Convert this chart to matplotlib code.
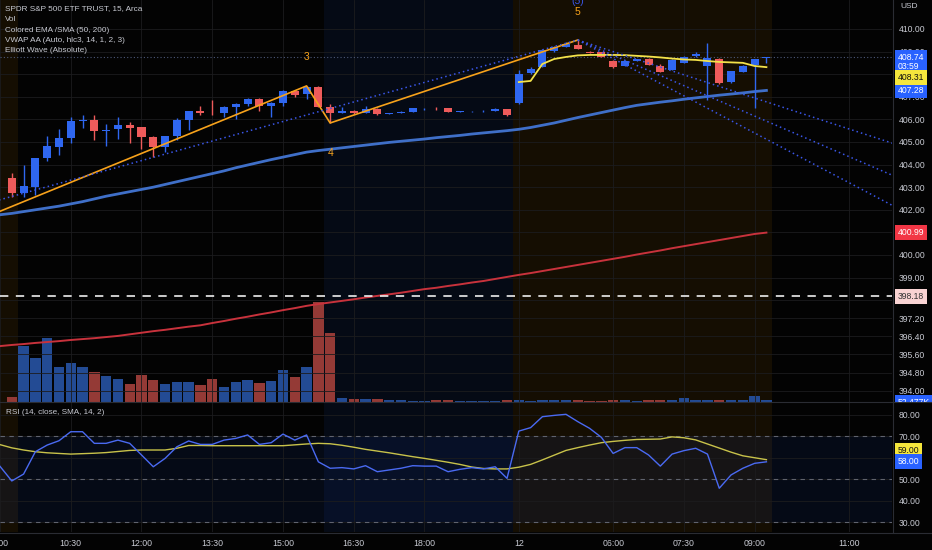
import numpy as np
import matplotlib
matplotlib.use("Agg")
import matplotlib.pyplot as plt
from matplotlib.transforms import Bbox, TransformedBbox
from matplotlib.lines import Line2D

plt.rcParams['font.family'] = ['Liberation Sans', 'DejaVu Sans']

# ---- data (15 min bars, 9:15 day 1 ... 9:15 day 2) ----
opens = [403.41, 402.74, 402.99, 404.29, 404.78, 405.18, 405.93, 405.97, 405.49, 405.58,
         405.75, 405.66, 405.22, 404.78, 405.27, 405.97, 406.37, 406.30, 406.28, 406.55,
         406.68, 406.90, 406.60, 406.73, 407.26, 407.12, 407.43, 406.55, 406.28, 406.37,
         406.28, 406.46, 406.24, 406.28, 406.33, 406.45, 406.48, 406.50, 406.33, 406.35,
         406.35, 406.37, 406.46, 406.73, 408.05, 408.32, 409.03, 409.20, 409.30, 409.00,
         408.98, 408.60, 408.36, 408.60, 408.67, 408.36, 408.19, 408.51, 408.80, 408.38,
         408.66, 407.64, 408.11, 408.41, 408.70]
highs = [403.63, 403.98, 404.29, 405.27, 405.58, 406.11, 406.19, 406.19, 405.80, 406.11,
         405.88, 405.66, 405.27, 405.27, 406.06, 406.37, 406.60, 406.86, 406.60, 406.72,
         406.95, 406.95, 406.77, 407.30, 407.30, 407.48, 407.48, 406.68, 406.55, 406.40,
         406.60, 406.50, 406.30, 406.35, 406.52, 406.50, 406.56, 406.52, 406.39, 406.39,
         406.40, 406.50, 406.48, 408.19, 408.32, 409.12, 409.25, 409.40, 409.51, 409.03,
         409.00, 408.62, 408.62, 408.68, 408.70, 408.45, 408.65, 408.80, 409.00, 409.36,
         408.70, 408.16, 408.40, 408.69, 408.76]
lows = [402.57, 402.57, 402.66, 404.16, 404.42, 404.96, 405.62, 405.09, 404.82, 405.13,
        404.96, 404.69, 404.34, 404.56, 405.09, 405.53, 406.20, 406.20, 406.11, 406.00,
        406.60, 406.37, 406.11, 406.60, 407.00, 406.90, 406.55, 405.84, 406.26, 406.24,
        406.26, 406.20, 406.22, 406.26, 406.31, 406.43, 406.40, 406.31, 406.31, 406.33,
        406.33, 406.35, 406.17, 406.70, 408.00, 408.30, 409.00, 409.18, 409.10, 408.93,
        408.74, 408.28, 408.34, 408.58, 408.40, 408.09, 408.17, 408.49, 408.78, 406.85,
        407.58, 407.62, 408.09, 406.50, 408.50]
closes = [402.74, 403.05, 404.29, 404.82, 405.18, 405.93, 405.97, 405.49, 405.53, 405.75,
          405.62, 405.22, 404.78, 405.27, 405.97, 406.37, 406.28, 406.26, 406.55, 406.68,
          406.90, 406.60, 406.73, 407.26, 407.08, 407.43, 406.55, 406.28, 406.37, 406.28,
          406.46, 406.24, 406.28, 406.33, 406.50, 406.48, 406.44, 406.33, 406.37, 406.37,
          406.38, 406.46, 406.19, 408.01, 408.23, 409.07, 409.20, 409.34, 409.12, 408.95,
          408.76, 408.30, 408.58, 408.66, 408.42, 408.11, 408.63, 408.78, 408.90, 408.72,
          407.60, 408.14, 408.38, 408.67, 408.74]
volume_k = [176, 2228, 1760, 2536, 1376, 1536, 1400, 1200, 1028, 908,
            696, 1068, 868, 696, 800, 800, 668, 896, 600, 800,
            868, 736, 828, 1268, 1000, 1376, 4000, 2760, 160, 120,
            108, 92, 68, 52, 48, 44, 60, 60, 40, 44,
            40, 48, 52, 56, 48, 52, 60, 52, 56, 48,
            44, 60, 56, 48, 60, 80, 68, 132, 72, 88,
            80, 72, 76, 240, 52.477]

# line series start one bar earlier (9:00 day 1)
ema50 = [401.78, 401.84, 401.92, 402.00, 402.08, 402.16, 402.26, 402.36, 402.48, 402.60,
         402.70, 402.80, 402.90, 403.00, 403.12, 403.24, 403.36, 403.48, 403.60, 403.72,
         403.86, 403.98, 404.10, 404.22, 404.33, 404.44, 404.55, 404.62, 404.68, 404.74,
         404.80, 404.86, 404.92, 404.98, 405.03, 405.08, 405.13, 405.19, 405.24, 405.29,
         405.35, 405.40, 405.45, 405.50, 405.56, 405.64, 405.74, 405.84, 405.96, 406.08,
         406.19, 406.30, 406.41, 406.52, 406.62, 406.69, 406.76, 406.82, 406.89, 406.95,
         407.01, 407.07, 407.12, 407.17, 407.23, 407.28]
sma200 = [395.97, 396.02, 396.06, 396.11, 396.15, 396.19, 396.24, 396.28, 396.32, 396.37,
          396.42, 396.49, 396.56, 396.63, 396.69, 396.76, 396.83, 396.89, 396.99, 397.08,
          397.18, 397.27, 397.37, 397.46, 397.56, 397.65, 397.75, 397.83, 397.90, 397.97,
          398.04, 398.12, 398.19, 398.26, 398.33, 398.41, 398.49, 398.55, 398.63, 398.70,
          398.78, 398.85, 398.94, 399.03, 399.12, 399.20, 399.29, 399.38, 399.47, 399.56,
          399.65, 399.74, 399.83, 399.92, 400.02, 400.11, 400.20, 400.30, 400.39, 400.48,
          400.57, 400.66, 400.75, 400.84, 400.93, 400.99]
rsi = [55.9, 49.1, 52.3, 62.7, 65.8, 67.8, 72.0, 72.0, 66.6, 66.6,
       68.1, 66.6, 61.2, 55.7, 59.6, 65.0, 67.7, 66.1, 66.1, 68.1,
       68.9, 70.5, 66.1, 66.9, 70.9, 68.1, 70.5, 58.0, 55.0, 55.3,
       54.7, 56.2, 53.4, 54.2, 55.0, 56.2, 56.0, 56.0, 53.4, 54.5,
       55.3, 54.7, 55.7, 50.3, 72.3, 73.9, 79.0, 79.6, 80.1, 76.7,
       73.6, 69.4, 61.9, 64.6, 64.6, 61.2, 56.0, 61.6, 63.2, 64.3,
       61.6, 45.7, 51.9, 55.0, 57.3, 58.0]
rsi_ma = [66.0, 64.5, 63.5, 62.7, 62.2, 61.9, 61.6, 61.8, 62.0, 62.3,
          62.8, 63.3, 63.5, 63.5, 63.5, 64.3, 65.6, 65.6, 65.5, 65.5,
          65.5, 65.5, 65.5, 65.5, 65.5, 65.9, 66.3, 66.6, 66.4, 65.7,
          64.8, 63.8, 63.0, 62.2, 61.3, 60.4, 59.6, 58.7, 57.8, 56.8,
          55.6, 54.9, 54.7, 54.7, 55.5, 56.8, 58.9, 61.1, 63.3, 64.6,
          65.8, 66.9, 67.5, 68.0, 68.4, 68.5, 68.6, 69.6, 69.2, 68.2,
          66.3, 64.4, 62.5, 60.8, 59.9, 59.0]
# VWAP anchored at day-2 session start (bar 43)
vwap_start = 43
vwap = [407.65, 407.70, 408.45, 408.67, 408.76, 408.83, 408.85, 408.85, 408.85, 408.84,
        408.81, 408.78, 408.74, 408.69, 408.65, 408.63, 408.58, 408.54, 408.52, 408.50,
        408.36, 408.31]

# Elliott wave pivots (bar index, price) and channel lines
wave_x = [-2, 25, 27, 48]
wave_y = [401.72, 407.48, 405.84, 409.51]
wave_labels = ['3', '4', '5']
wave_label_y = [408.76, 404.51, 410.75]
chan_x = [-2, 48]
chan_y = [402.30, 409.51]
fan_x = [48, 76]
fan_ends = [404.72, 403.23, 401.83]

last_price = 408.74
ref_level = 398.18

# sessions: pre-market / post-market shading (bar index ranges)
sess_start = [-1.5, 26.5, 42.5]
sess_end = [0.5, 42.5, 64.5]
sess_kind = ['pre', 'post', 'pre']

time_ticks = [-1, 5, 11, 17, 23, 29, 35, 43, 51, 57, 63, 71]
time_labels = ['9:00', '10:30', '12:00', '13:30', '15:00', '16:30', '18:00', '12',
               '06:00', '07:30', '09:00', '11:00']
price_ticks = [410, 409, 408, 407, 406, 405, 404, 403, 402, 401, 400, 399, 398,
               397.2, 396.4, 395.6, 394.8, 394.0]
hidden_price = [408, 401, 398]
rsi_ticks = [30, 40, 50, 60, 70, 80]
hidden_rsi = [60]

titles = ['SPDR S&P 500 ETF TRUST, 15, Arca', 'Vol', 'Colored EMA /SMA (50, 200)',
          'VWAP AA (Auto, hlc3, 14, 1, 2, 3)', 'Elliott Wave (Absolute)']

# ---- styling ----
BG = '#030303'
UP, DN = '#2f67f0', '#ee5b5b'
UPV, DNV = '#234b94', '#943a36'
TXT = '#c8cad2'
GRID = '#1c1c1e'
W, H = 932, 550

def fx(px):
    return px / W

def fy(py):
    return 1 - py / H

o, h, l, c = map(np.array, (opens, highs, lows, closes))
xb = np.arange(len(o))
xl = np.arange(-1, len(o))
up = c >= o
col = np.where(up, UP, DN)
vcol = np.where(up, UPV, DNV)

fig = plt.figure(figsize=(9.32, 5.5), dpi=100, facecolor=BG)
ax_vol = fig.add_axes([0, fy(401.7), fx(892), 401.7 / H], facecolor=BG)
ax = fig.add_axes([0, fy(401.7), fx(892), 401.7 / H], sharex=ax_vol)
ax.patch.set_visible(False)
ax_rsi = fig.add_axes([0, fy(532), fx(892), (532 - 402.5) / H], sharex=ax_vol, facecolor=BG)

ax_vol.set_xlim(-0.75, 74.65)
ax.set_ylim(393.51, 411.28)
ax_vol.set_ylim(0, max(volume_k) * 4.017)
ax_rsi.set_ylim(25.35, 85.6)

for a in (ax_vol, ax_rsi):
    for s0, s1, k in zip(sess_start, sess_end, sess_kind):
        a.axvspan(s0, s1, color='#ff9800' if k == 'pre' else '#2962ff',
                  alpha=0.075, lw=0, zorder=0)
ax_rsi.axhspan(30, 70, color='#2962ff', alpha=0.08, lw=0, zorder=0)

# volume
ax_vol.bar(xb, volume_k, width=0.88, color=vcol, zorder=2)

# grid
for a in (ax, ax_rsi):
    a.grid(True, color=GRID, lw=0.6, zorder=0)
    a.set_axisbelow(True)

# moving averages
ax.plot(xl, sma200, color='#c8323c', lw=1.4, zorder=3)
ax.plot(xl, ema50, color='#3f6fc8', lw=2.0, zorder=3)

# candles
ax.vlines(xb, l, h, color=col, lw=1, zorder=4)
ax.bar(xb, np.maximum(np.abs(c - o), 0.025), bottom=np.minimum(o, c), width=0.68,
       color=col, zorder=4)

# vwap
ax.plot(np.arange(vwap_start, vwap_start + len(vwap)), vwap, color='#f3e24a', lw=1.3, zorder=5)

# elliott wave
ax.plot(wave_x, wave_y, color='#f7a21b', lw=1.2, zorder=5)
ax.plot(chan_x, chan_y, color='#3a56e8', lw=1.1, ls=(0, (1, 2)), zorder=5)
for e in fan_ends:
    ax.plot(fan_x, [wave_y[-1], e], color='#3a56e8', lw=1.1, ls=(0, (1, 2)), zorder=5)
for px, lab, py in zip(wave_x[1:], wave_labels, wave_label_y):
    ax.text(px, py, lab, color='#f7a21b', fontsize=7.5, ha='center', va='center', zorder=6)
ax.text(wave_x[-1], wave_label_y[-1] + 0.5, '(5)', color='#3a56e8', fontsize=7.5,
        ha='center', va='center', zorder=6)

ax.axhline(last_price, color='#4c5878', lw=0.8, ls=(0, (1, 2)), zorder=2)
ax.axhline(ref_level, color='#eeeeee', lw=1.2, ls=(0, (5, 4.5)), zorder=5)

# rsi
for lv in (70, 50, 30):
    ax_rsi.axhline(lv, color='#60636e', lw=0.8, ls=(0, (4, 4)), zorder=1)
ax_rsi.plot(xl, rsi_ma, color='#c8c24a', lw=1.0, zorder=3)
ax_rsi.plot(xl, rsi, color='#4a6af2', lw=1.0, zorder=4)

# axes / ticks
for a in (ax, ax_vol, ax_rsi):
    for s in a.spines.values():
        s.set_visible(False)
ax_vol.set_yticks([])
ax_vol.tick_params(axis='x', bottom=False, labelbottom=False)
ax.tick_params(axis='x', bottom=False, labelbottom=False)
ax.yaxis.tick_right()
ax.set_yticks(price_ticks)
ax.set_yticklabels(['' if v in hidden_price else '%.2f' % v for v in price_ticks])
ax.tick_params(axis='y', length=0, pad=5, labelsize=6.2, colors=TXT)
ax_rsi.yaxis.tick_right()
ax_rsi.set_yticks(rsi_ticks)
ax_rsi.set_yticklabels(['' if v in hidden_rsi else '%.2f' % v for v in rsi_ticks])
ax_rsi.tick_params(axis='y', length=0, pad=5, labelsize=6.2, colors=TXT)
ax_rsi.set_xticks(time_ticks)
ax_rsi.set_xticklabels(time_labels)
ax_rsi.tick_params(axis='x', length=0, pad=5, labelsize=6.3, colors=TXT)


def badge(a, y, txt, fc, tc, dy=0):
    return a.annotate(txt, xy=(1, y), xycoords=('axes fraction', 'data'),
                      xytext=(4, dy), textcoords='offset points', ha='left', va='center',
                      fontsize=6.2, color=tc, linespacing=1.0, annotation_clip=False,
                      bbox=dict(boxstyle='square,pad=0.35', fc=fc, ec='none'), zorder=10)


badge(ax, ema50[-1], '%.2f' % ema50[-1], '#2962ff', 'white')
badge(ax, last_price, '%.2f\n03:59' % last_price, '#2962ff', 'white', dy=-3.5)
badge(ax, vwap[-1], '%.2f' % vwap[-1], '#f5e63c', '#111111', dy=-7.5)
badge(ax, sma200[-1], '%.2f' % sma200[-1], '#f23645', 'white')
badge(ax, ref_level, '%.2f' % ref_level, '#f9d3d3', '#333333')
vb = badge(ax_vol, volume_k[-1], '%.3fK' % volume_k[-1], '#2962ff', 'white', dy=-1.5)
vb.set_clip_on(True)
vb.set_clip_box(TransformedBbox(Bbox([[fx(892), fy(402)], [1, fy(380)]]), fig.transFigure))
badge(ax_rsi, rsi_ma[-1], '%.2f' % rsi_ma[-1], '#f5e63c', '#111111', dy=6.5)
badge(ax_rsi, rsi[-1], '%.2f' % rsi[-1], '#2962ff', 'white')

# legend texts
for i, t in enumerate(titles):
    fig.text(fx(5), fy(9 + 10.5 * i), t, color=TXT, fontsize=5.9, va='center', ha='left')
fig.text(fx(6), fy(412), 'RSI (14, close, SMA, 14, 2)', color=TXT, fontsize=5.9,
         va='center', ha='left')
fig.text(fx(900), fy(7), 'USD', color=TXT, fontsize=6.0, va='center', ha='left')

# pane separators
SEP = '#2a2c33'
fig.add_artist(Line2D([fx(892.5), fx(892.5)], [fy(0), fy(532)], color=SEP, lw=0.8))
fig.add_artist(Line2D([0, 1], [fy(402), fy(402)], color=SEP, lw=0.8))
fig.add_artist(Line2D([0, 1], [fy(532.5), fy(532.5)], color=SEP, lw=0.8))

fig.savefig('out.png', dpi=100, facecolor=fig.get_facecolor())
